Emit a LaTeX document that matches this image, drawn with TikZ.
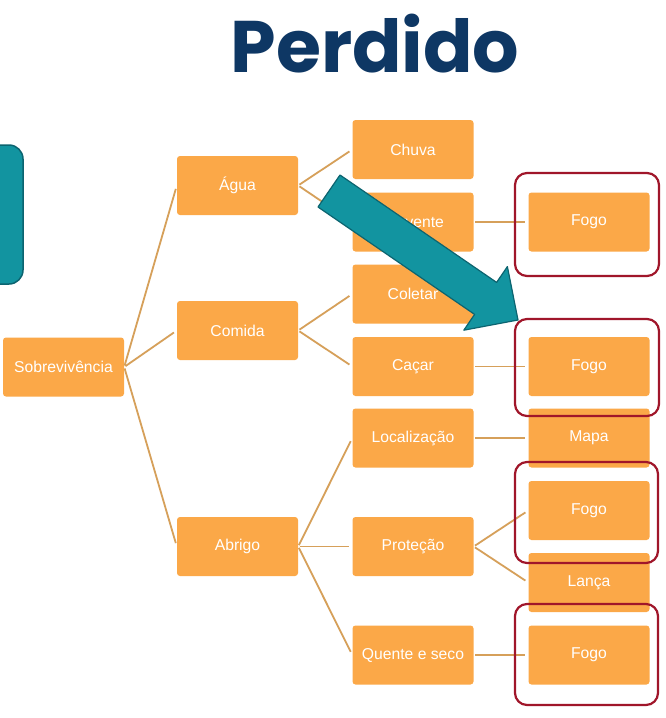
\documentclass[tikz,border=0pt]{standalone}
\usepackage{fontspec}
\setmainfont{Liberation Sans}
\newfontfamily\titlefont{Poppins}
\definecolor{cardorange}{RGB}{251,168,72}
\definecolor{branchtan}{RGB}{214,160,90}
\definecolor{ringred}{RGB}{160,22,42}
\definecolor{arrowteal}{RGB}{18,148,160}
\definecolor{arrowedge}{RGB}{12,100,112}
\definecolor{titleblue}{RGB}{14,55,100}
\begin{document}
\begin{tikzpicture}[x=1pt,y=-1pt,
  card/.style={fill=cardorange, rounded corners=3pt, minimum width=121pt, minimum height=59pt,
    inner sep=0pt, text=white, font=\fontsize{15.7}{18}\selectfont},
  branch/.style={draw=branchtan, line width=1.8pt, shorten <=1.5pt, shorten >=3.5pt},
  ring/.style={draw=ringred, line width=2.2pt, rounded corners=12pt}]
\clip (0,0) rectangle (666,718);
\fill[white] (0,0) rectangle (666,718);

\node[text=titleblue, font=\titlefont\bfseries\fontsize{73}{80}\selectfont] (title) at (375,44) {Perdido};

\draw[fill=arrowteal, draw=arrowedge, line width=1.5pt, rounded corners=14pt] (-40,145) rectangle (23,284);

\node[card] (sobre) at (63.5,367) {Sobrevivência};
\node[card] (agua) at (237.5,185.5) {Água};
\node[card] (comida) at (237.5,330.5) {Comida};
\node[card] (abrigo) at (237.5,546.5) {Abrigo};
\node[card] (chuva) at (413,149.5) {Chuva};
\node[card] (fervente) at (413,222) {Fervente};
\node[card] (coletar) at (413,294) {Coletar};
\node[card] (cacar) at (413,366.5) {Caçar};
\node[card] (local) at (413,438) {Localização};
\node[card] (protecao) at (413,546.5) {Proteção};
\node[card] (quente) at (413,655) {Quente e seco};
\node[card] (fogoA) at (589,222) {Fogo};
\node[card] (fogoB) at (589,366.5) {Fogo};
\node[card] (mapa) at (589,438) {Mapa};
\node[card] (fogoC) at (589,510.5) {Fogo};
\node[card] (lanca) at (589,582.5) {Lança};
\node[card] (fogoD) at (589,655) {Fogo};

\draw[branch] (sobre.east) -- (agua.west);
\draw[branch] (sobre.east) -- (comida.west);
\draw[branch] (sobre.east) -- (abrigo.west);
\draw[branch] (agua.east) -- (chuva.west);
\draw[branch] (agua.east) -- (fervente.west);
\draw[branch] (comida.east) -- (coletar.west);
\draw[branch] (comida.east) -- (cacar.west);
\draw[branch] (abrigo.east) -- (local.west);
\draw[branch] (abrigo.east) -- (protecao.west);
\draw[branch] (abrigo.east) -- (quente.west);
\draw[branch] (fervente.east) -- (fogoA.west);
\draw[branch] (cacar.east) -- (fogoB.west);
\draw[branch] (local.east) -- (mapa.west);
\draw[branch] (protecao.east) -- (fogoC.west);
\draw[branch] (protecao.east) -- (lanca.west);
\draw[branch] (quente.east) -- (fogoD.west);

\draw[ring] (515,173) rectangle (659,276);
\draw[ring] (515,319) rectangle (659,416);
\draw[ring] (515,462) rectangle (658,563);
\draw[ring] (515,604) rectangle (658,705);

\draw[fill=arrowteal, draw=arrowedge, line width=1.2pt, line join=round]
  (340,175) -- (496.6,282.4) -- (507.4,266.6) -- (518,320) -- (463.8,330.2) -- (474.6,314.4) -- (318,207) -- cycle;
\end{tikzpicture}
\end{document}
